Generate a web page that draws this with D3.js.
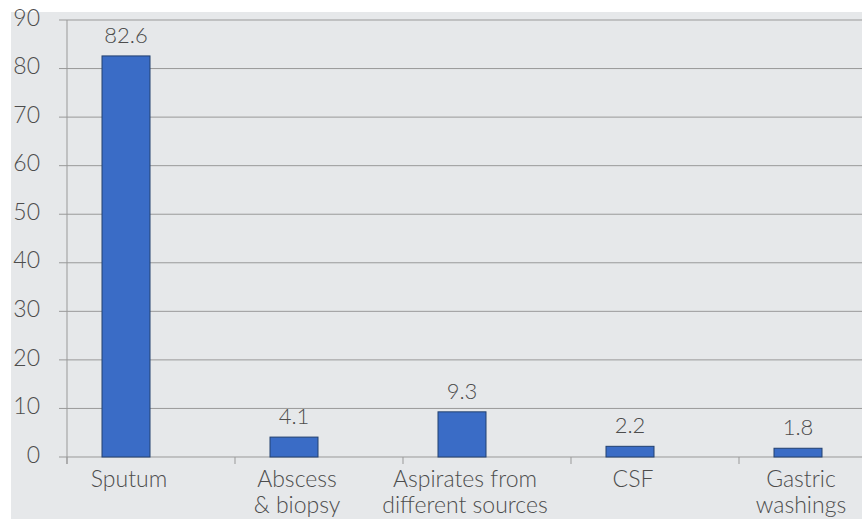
<!DOCTYPE html>
<html>
<head>
<meta charset="utf-8">
<script src="https://cdn.jsdelivr.net/npm/d3@7"></script>
<style>
  body { margin: 0; background: #fff; }
  .axis-text { font-family: Lato, "Open Sans", sans-serif; fill: #4d4d4d; font-size: 23px; font-weight: 300; }
  .value-text { font-family: Lato, "Open Sans", sans-serif; fill: #4d4d4d; font-size: 22px; font-weight: 300; }
  .grid-line { stroke: #999; stroke-width: 1; }
</style>
</head>
<body>
<div id="chart"></div>
<script>
const categories = ["Sputum", "Abscess\n& biopsy", "Aspirates from\ndifferent sources", "CSF", "Gastric\nwashings"];
const values = [82.6, 4.1, 9.3, 2.2, 1.8];
const yTickValues = [0, 10, 20, 30, 40, 50, 60, 70, 80, 90];

const width = 862;
const height = 519;
const margin = { top: 20, left: 67, bottom: 457 };
const barWidth = 48;
const step = 168;
const tickShift = 25;

const svg = d3.select("#chart")
  .append("svg")
  .attr("width", width)
  .attr("height", height);

// paper background
svg.append("rect")
  .attr("x", 11)
  .attr("y", 12)
  .attr("width", width - 11)
  .attr("height", height - 12)
  .attr("fill", "#e6e8ea");

const xScale = d3.scaleBand()
  .domain(categories)
  .range([margin.left - tickShift, margin.left - tickShift + step * categories.length])
  .paddingInner((step - barWidth) / step)
  .paddingOuter((step - barWidth) / step / 2);

const yScale = d3.scaleLinear().domain([0, 90]).range([margin.bottom, margin.top]);

// grid + y ticks
const yTicks = svg.selectAll(".y-tick")
  .data(yTickValues)
  .enter()
  .append("g")
  .attr("transform", (d) => `translate(0, ${yScale(d)})`);

yTicks.append("line")
  .attr("class", "grid-line")
  .attr("x1", margin.left - 8)
  .attr("x2", width)
  .attr("y1", 0)
  .attr("y2", 0);

yTicks.append("text")
  .attr("class", "axis-text")
  .attr("x", 40)
  .attr("text-anchor", "end")
  .attr("dominant-baseline", "middle")
  .attr("font-size", 24)
  .text((d) => d);

// y axis line
svg.append("line")
  .attr("class", "grid-line")
  .attr("x1", margin.left)
  .attr("x2", margin.left)
  .attr("y1", yScale(0) + 7)
  .attr("y2", yScale(90));

// x category separators
const sepData = d3.range(categories.length + 1);
svg.selectAll(".x-sep")
  .data(sepData)
  .enter()
  .append("line")
  .attr("class", "grid-line")
  .attr("x1", (i) => xScale.range()[0] + tickShift + i * xScale.step())
  .attr("x2", (i) => xScale.range()[0] + tickShift + i * xScale.step())
  .attr("y1", yScale(0))
  .attr("y2", yScale(0) + 7);

// bars
svg.selectAll(".bar")
  .data(values)
  .enter()
  .append("rect")
  .attr("x", (d, i) => xScale(categories[i]))
  .attr("y", (d) => yScale(d))
  .attr("width", xScale.bandwidth())
  .attr("height", (d) => yScale(0) - yScale(d))
  .attr("fill", "#3a6cc6")
  .attr("stroke", "#22406f")
  .attr("stroke-width", 1);

// value labels
svg.selectAll(".value")
  .data(values)
  .enter()
  .append("text")
  .attr("class", "value-text")
  .attr("x", (d, i) => xScale(categories[i]) + xScale.bandwidth() / 2)
  .attr("y", (d) => yScale(d) - 13)
  .attr("text-anchor", "middle")
  .text((d) => d.toFixed(1));

// category labels
const catLabels = svg.selectAll(".cat")
  .data(categories)
  .enter()
  .append("text")
  .attr("class", "axis-text")
  .attr("text-anchor", "middle")
  .attr("x", (d) => xScale(d) + xScale.bandwidth() / 2 + 3)
  .attr("y", 487);

catLabels.selectAll("tspan")
  .data((d) => d.split("\n"))
  .enter()
  .append("tspan")
  .attr("x", function () { return d3.select(this.parentNode).attr("x"); })
  .attr("dy", (d, i) => (i === 0 ? 0 : 26))
  .text((d) => d);
</script>
</body>
</html>
